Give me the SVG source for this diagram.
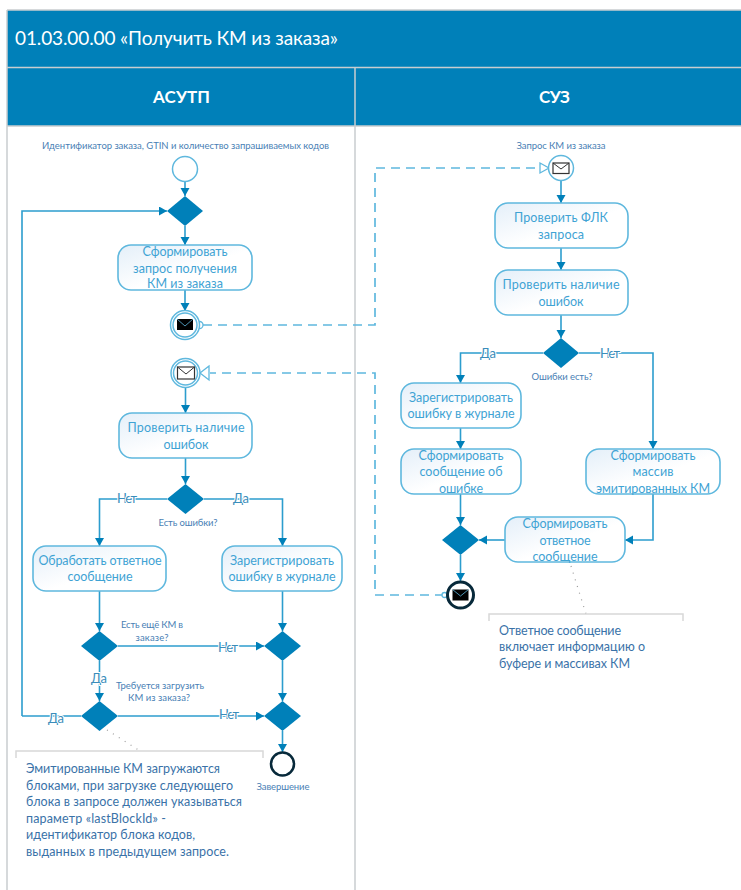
<svg xmlns="http://www.w3.org/2000/svg" width="741" height="890" viewBox="0 0 741 890">
<style>
text{font-family:Lato,"Open Sans","Liberation Sans",sans-serif}
.band{fill:#0080b9}
.sep{stroke:#c9cdd0;stroke-width:1.5;fill:none}
.box{fill:url(#g);stroke:#5fb8de;stroke-width:1.6}
.bt{font-size:12.5px;fill:#3fa3d4;text-anchor:middle}
.cap{font-size:9.5px;fill:#4a7fb5;text-anchor:middle}
.lab{font-size:13px;fill:#3a8dbb;text-anchor:middle;paint-order:stroke;stroke:#fff;stroke-width:2px}
.note{font-size:12.5px;fill:#3a72a8}
.dia{fill:#0080b9}
.flow{fill:none;stroke:#2c9dce;stroke-width:1.6}
.arr{marker-end:url(#a)}
.dash{fill:none;stroke:#5fb8de;stroke-width:1.7;stroke-dasharray:9 6}
.dot{fill:none;stroke:#9a9a9a;stroke-width:1.2;stroke-dasharray:1 6}
.br{fill:none;stroke:#d8d8d8;stroke-width:1.5}
.ring{fill:#fff;stroke:#5fb8de;stroke-width:1.5}
</style>
<defs>
<linearGradient id="g" x1="0" y1="0" x2="1" y2="1"><stop offset="0" stop-color="#e4eff9"/><stop offset=".55" stop-color="#fff"/></linearGradient>
<marker id="a" markerUnits="userSpaceOnUse" markerWidth="10" markerHeight="10" refX="8" refY="4.500" orient="auto"><path d="M0 0L8 4.500L0 9Z" fill="#0080b9"/></marker>
</defs>
<rect width="741" height="890" fill="#fff"/>
<g id="frame">
<rect class="band" x="7" y="10" width="734" height="57"/>
<rect class="band" x="7" y="68" width="734" height="58"/>
<path class="sep" d="M7 10H741M7 67.500H741M7 126H741M7 10V890M355 68V890"/>
<text x="15" y="45" font-size="19" fill="#fff" textLength="323">01.03.00.00 «Получить КМ из заказа»</text>
<text x="181.500" y="103" font-size="17" font-weight="700" fill="#fff" text-anchor="middle" textLength="57">АСУТП</text>
<text x="554.500" y="103" font-size="17" font-weight="700" fill="#fff" text-anchor="middle" textLength="31">СУЗ</text>
</g>
<g id="connectors">
<path class="flow arr" d="M185 182V196"/>
<path class="flow arr" d="M185 226V245"/>
<path class="flow arr" d="M185 290V311"/>
<path class="flow arr" d="M22 716V211H167"/>
<path class="flow" d="M81 716H22"/>
<path class="flow arr" d="M185.500 387V413"/>
<path class="flow arr" d="M185.500 458V484"/>
<path class="flow arr" d="M167 499H99.500V546"/>
<path class="flow arr" d="M204 499H282.500V546"/>
<path class="flow arr" d="M99.500 591V631"/>
<path class="flow arr" d="M282.500 591V631"/>
<path class="flow arr" d="M118 646H264"/>
<path class="flow arr" d="M99.500 661V701"/>
<path class="flow arr" d="M282.500 661V701"/>
<path class="flow arr" d="M118 716H264"/>
<path class="flow arr" d="M282.500 731V752"/>
<path class="flow arr" d="M561 180V203"/>
<path class="flow arr" d="M561 248V270"/>
<path class="flow arr" d="M561 315V338"/>
<path class="flow arr" d="M543 353H460.500V383"/>
<path class="flow arr" d="M579 353H653V449"/>
<path class="flow arr" d="M460.500 428V449"/>
<path class="flow arr" d="M460.500 494V525"/>
<path class="flow arr" d="M653 494V540H625"/>
<path class="flow arr" d="M505 540H479"/>
<path class="flow arr" d="M460.500 555V581"/>
<path class="dash" d="M203 325H375V168H540"/>
<path d="M540 163L549 168L540 173Z" fill="#fff" stroke="#5fb8de" stroke-width="1.300"/>
<circle cx="199.500" cy="325" r="3.500" fill="#fff" stroke="#5fb8de" stroke-width="1.300"/>
<path class="dash" d="M444 595H375V373H210"/>
<path d="M209 366L200 373L209 380Z" fill="#fff" stroke="#5fb8de" stroke-width="1.300"/>
<circle cx="444.500" cy="595" r="2.500" fill="#fff" stroke="#5fb8de" stroke-width="1.300"/>
<path class="dot" d="M107 730L140 751"/>
<path class="dot" d="M571 566L586 614"/>
<text class="lab" x="127" y="503" textLength="20">Нет</text>
<text class="lab" x="241" y="503" textLength="16">Да</text>
<text class="lab" x="488" y="358" textLength="16">Да</text>
<text class="lab" x="610" y="358" textLength="20">Нет</text>
<text class="lab" x="228" y="652" textLength="20">Нет</text>
<text class="lab" x="99" y="683" textLength="16">Да</text>
<text class="lab" x="56" y="723" textLength="16">Да</text>
<text class="lab" x="229" y="719" textLength="20">Нет</text>
</g>
<g id="start"><circle class="ring" cx="185" cy="169" r="12.500"/><text class="cap" x="185.500" y="149" textLength="287">Идентификатор заказа, GTIN и количество запрашиваемых кодов</text></g>
<g id="gw1"><path class="dia" d="M185 196L203 211L185 226L167 211Z"/></g>
<g id="task1"><rect class="box" x="118" y="245" width="134" height="45" rx="13"/><text class="bt" x="185" y="256" textLength="85">Сформировать</text><text class="bt" x="185" y="273" textLength="104">запрос получения</text><text class="bt" x="185" y="288" textLength="76">КМ из заказа</text></g>
<g id="send1"><circle class="ring" cx="185" cy="325" r="14.500"/><circle class="ring" cx="185" cy="325" r="12"/><rect x="177" y="319" width="16" height="11" fill="#000"/><path d="M177 319L185 326L193 319" fill="none" stroke="#5fb8de" stroke-width=".8"/></g>
<g id="recv1"><circle class="ring" cx="185.500" cy="373" r="14.500"/><circle class="ring" cx="185.500" cy="373" r="12"/><rect x="177.500" y="367" width="17" height="12" fill="#fff" stroke="#333" stroke-width="1.200"/><path d="M177.500 367L186 374L194.500 367" fill="none" stroke="#333" stroke-width="1"/></g>
<g id="task2"><rect class="box" x="119" y="413" width="133" height="45" rx="13"/><text class="bt" x="186" y="432" textLength="117">Проверить наличие</text><text class="bt" x="186" y="449" textLength="45">ошибок</text></g>
<g id="gw2"><path class="dia" d="M185.500 484L204 499L185.500 514L167 499Z"/><text class="cap" x="188" y="526" textLength="59">Есть ошибки?</text></g>
<g id="task3"><rect class="box" x="33" y="546" width="133" height="45" rx="13"/><text class="bt" x="100" y="565" textLength="123">Обработать ответное</text><text class="bt" x="100" y="581" textLength="65">сообщение</text></g>
<g id="task4"><rect class="box" x="222" y="546" width="120" height="45" rx="13"/><text class="bt" x="282" y="565" textLength="104">Зарегистрировать</text><text class="bt" x="282" y="581" textLength="107">ошибку в журнале</text></g>
<g id="gw3"><path class="dia" d="M99.500 631L118 646L99.500 661L81 646Z"/><text class="cap" x="152" y="628" textLength="62">Есть ещё КМ в</text><text class="cap" x="152" y="641" textLength="33">заказе?</text></g>
<g id="gw4"><path class="dia" d="M282.500 631L301 646L282.500 661L264 646Z"/></g>
<g id="gw5"><path class="dia" d="M99.500 701L118 716L99.500 731L81 716Z"/><text class="cap" x="160" y="689" textLength="88">Требуется загрузить</text><text class="cap" x="159" y="701" textLength="62">КМ из заказа?</text></g>
<g id="gw6"><path class="dia" d="M282.500 701L301 716L282.500 731L264 716Z"/></g>
<g id="end1"><circle cx="282.500" cy="764" r="11.500" fill="#fff" stroke="#07293a" stroke-width="2.500"/><text class="cap" x="283" y="790" textLength="53">Завершение</text></g>
<g id="note1"><path class="br" d="M16 758V751H263V758"/><text class="note" x="26" y="773" textLength="194">Эмитированные КМ загружаются</text><text class="note" x="26" y="790" textLength="207">блоками, при загрузке следующего</text><text class="note" x="26" y="806" textLength="216">блока в запросе должен указываться</text><text class="note" x="26" y="823" textLength="140">параметр «lastBlockId» -</text><text class="note" x="26" y="839" textLength="169">идентификатор блока кодов,</text><text class="note" x="26" y="856" textLength="203">выданных в предыдущем запросе.</text></g>
<g id="recv2"><circle class="ring" cx="561" cy="168" r="12.500"/><rect x="553" y="163" width="16" height="10.500" fill="#fff" stroke="#333" stroke-width="1.200"/><path d="M553 163L561 169L569 163" fill="none" stroke="#333" stroke-width="1"/><text class="cap" x="561" y="149" textLength="89">Запрос КМ из заказа</text></g>
<g id="task5"><rect class="box" x="495" y="203" width="133" height="45" rx="13"/><text class="bt" x="561" y="222" textLength="94">Проверить ФЛК</text><text class="bt" x="561" y="239" textLength="46">запроса</text></g>
<g id="task6"><rect class="box" x="495" y="270" width="133" height="45" rx="13"/><text class="bt" x="561" y="289" textLength="117">Проверить наличие</text><text class="bt" x="561" y="306" textLength="45">ошибок</text></g>
<g id="gw7"><path class="dia" d="M561 338L579 353L561 368L543 353Z"/><text class="cap" x="562" y="380" textLength="61">Ошибки есть?</text></g>
<g id="task7"><rect class="box" x="401" y="383" width="120" height="45" rx="13"/><text class="bt" x="461" y="402" textLength="104">Зарегистрировать</text><text class="bt" x="461" y="418" textLength="107">ошибку в журнале</text></g>
<g id="task8"><rect class="box" x="401" y="449" width="120" height="45" rx="13"/><text class="bt" x="461" y="460" textLength="85">Сформировать</text><text class="bt" x="461" y="476" textLength="83">сообщение об</text><text class="bt" x="461" y="493" textLength="44">ошибке</text></g>
<g id="task9"><rect class="box" x="586" y="449" width="134" height="45" rx="13"/><text class="bt" x="653" y="460" textLength="85">Сформировать</text><text class="bt" x="653" y="476" textLength="41">массив</text><text class="bt" x="653" y="493" textLength="114">эмитированных КМ</text></g>
<g id="task10"><rect class="box" x="505" y="517" width="120" height="45" rx="13"/><text class="bt" x="565" y="528" textLength="85">Сформировать</text><text class="bt" x="565" y="545" textLength="51">ответное</text><text class="bt" x="565" y="561" textLength="65">сообщение</text></g>
<g id="gw8"><path class="dia" d="M460.500 525L479 540L460.500 555L442 540Z"/></g>
<g id="end2"><circle cx="460.500" cy="595" r="13" fill="#fff" stroke="#07293a" stroke-width="3"/><rect x="452.500" y="589.500" width="16" height="11" fill="#000"/><path d="M452.500 589.500L460.500 596L468.500 589.500" fill="none" stroke="#5fb8de" stroke-width=".8"/></g>
<g id="note2"><path class="br" d="M489 621V614H683V621"/><text class="note" x="499" y="635" textLength="122">Ответное сообщение</text><text class="note" x="499" y="651" textLength="146">включает информацию о</text><text class="note" x="499" y="668" textLength="131">буфере и массивах КМ</text></g>
</svg>
